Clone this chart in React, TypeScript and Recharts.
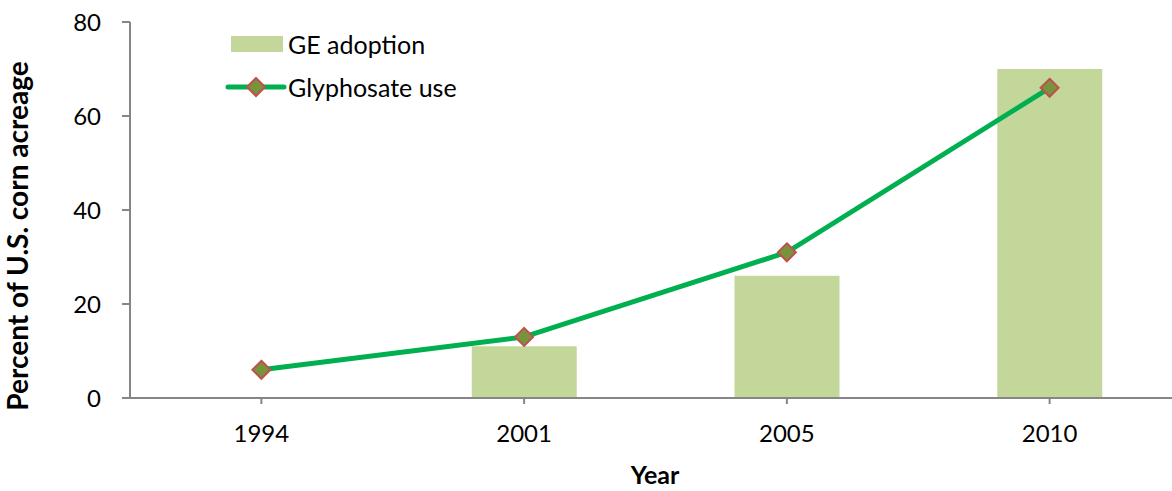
import React from 'react';
import { ComposedChart, Bar, Line, XAxis, YAxis, Label } from 'recharts';

// values (percent of U.S. corn acreage)
const years = ['1994', '2001', '2005', '2010'];
const geAdoption = [0, 11, 26, 70];
const glyphosateUse = [6, 13, 31, 66];
const yTicks = [0, 20, 40, 60, 80];

const data = years.map((year, i) => ({
    year,
    ge: geAdoption[i],
    gly: glyphosateUse[i],
}));

const FONT = 'Lato, "Open Sans", sans-serif';
const AXIS_GRAY = '#868686';
const BAR_FILL = '#C4D79B';
const LINE_GREEN = '#00B050';
const DOT_FILL = '#77933C';
const DOT_STROKE = '#C0504D';

const Diamond = (props: any) => {
    const { cx, cy } = props;
    if (cx == null || cy == null) return null;
    const r = 9;
    return (
        <polygon
            points={`${cx},${cy - r} ${cx + r},${cy} ${cx},${cy + r} ${cx - r},${cy}`}
            fill={DOT_FILL}
            stroke={DOT_STROKE}
            strokeWidth={2}
        />
    );
};

// legend drawn on top of the chart, Excel style
const ChartLegend = () => (
    <svg
        width={300}
        height={90}
        style={{ position: 'absolute', left: 225, top: 22, overflow: 'visible' }}
    >
        <rect x={6} y={14} width={52} height={16} fill={BAR_FILL} />
        <text x={63} y={22} dominantBaseline="central" fontSize={25} fontFamily={FONT} fill="#000">
            GE adoption
        </text>
        <line x1={3} y1={65} x2={59} y2={65} stroke={LINE_GREEN} strokeWidth={5} strokeLinecap="round" />
        <Diamond cx={31} cy={65} />
        <text x={63} y={65} dominantBaseline="central" fontSize={25} fontFamily={FONT} fill="#000">
            Glyphosate use
        </text>
    </svg>
);

export default function App() {
    return (
        <div
            style={{
                position: 'absolute',
                left: 0,
                top: 0,
                width: 1172,
                height: 491,
                overflow: 'hidden',
                background: '#fff',
            }}
        >
            <ComposedChart
                width={1182}
                height={491}
                data={data}
                margin={{ top: 22, right: 1, bottom: 0, left: 0 }}
                barSize={105}
            >
                <XAxis
                    dataKey="year"
                    height={93}
                    stroke={AXIS_GRAY}
                    strokeWidth={2}
                    tickSize={6}
                    tickMargin={21}
                    tick={{ fill: '#000', fontSize: 24, fontFamily: FONT }}
                >
                    <Label
                        content={() => (
                            <text
                                x={655}
                                y={484}
                                textAnchor="middle"
                                fontSize={25}
                                fontWeight="bold"
                                fontFamily={FONT}
                                fill="#000"
                            >
                                Year
                            </text>
                        )}
                    />
                </XAxis>
                <YAxis
                    width={130}
                    domain={[0, 80]}
                    ticks={yTicks}
                    stroke={AXIS_GRAY}
                    strokeWidth={2}
                    tickSize={8}
                    tickMargin={21}
                    tick={{ fill: '#000', fontSize: 24, fontFamily: FONT }}
                >
                    <Label
                        content={() => (
                            <text
                                x={28}
                                y={236}
                                transform="rotate(-90 28 236)"
                                textAnchor="middle"
                                fontSize={28}
                                fontWeight="bold"
                                fontFamily={FONT}
                                fill="#000"
                            >
                                Percent of U.S. corn acreage
                            </text>
                        )}
                    />
                </YAxis>
                <Bar dataKey="ge" name="GE adoption" fill={BAR_FILL} isAnimationActive={false} />
                <Line
                    dataKey="gly"
                    name="Glyphosate use"
                    stroke={LINE_GREEN}
                    strokeWidth={5}
                    dot={<Diamond />}
                    activeDot={false}
                    isAnimationActive={false}
                />
            </ComposedChart>
            <ChartLegend />
        </div>
    );
}
